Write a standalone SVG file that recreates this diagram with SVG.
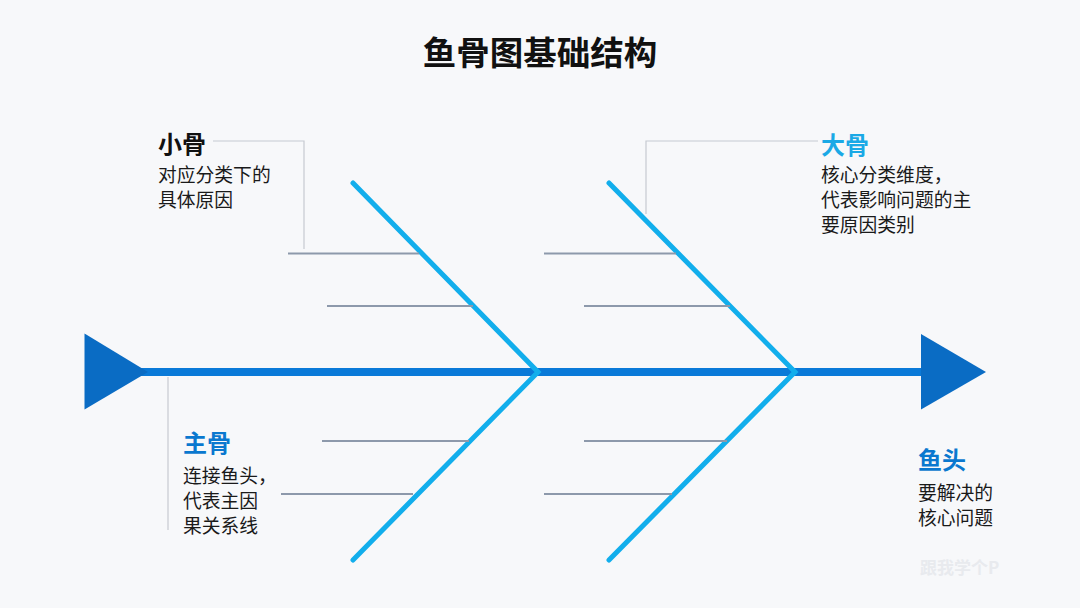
<svg xmlns="http://www.w3.org/2000/svg" width="1080" height="608" viewBox="0 0 1080 608">
<style>
text{font-family:"Noto Sans CJK SC","Noto Sans",sans-serif}
.title{font-size:33.5px;font-weight:700;fill:#111}
.head{font-size:24px;font-weight:700}
.body{font-size:18.8px;fill:#1a1a1a}
.bone{stroke:#12aeec;stroke-width:5;stroke-linecap:round;fill:none}
.rib{stroke:#8d99ab;stroke-width:2;fill:none}
.call{stroke:#c6cad1;stroke-width:1.2;fill:none}
</style>
<rect width="1080" height="608" fill="#f7f8fa"/>
<text class="title" x="540" y="65" text-anchor="middle">鱼骨图基础结构</text>
<g id="connectors">
<polyline class="call" points="213,141 304,141 304,249"/>
<polyline class="call" points="818,141 646,141 646,214"/>
<line class="call" x1="168" y1="377" x2="168" y2="530"/>
<line x1="140" y1="372" x2="926" y2="372" stroke="#0a7ad8" stroke-width="8"/>
<polyline class="bone" points="353,183 538,372 353,560"/>
<polyline class="bone" points="609,183 795,372 609,560"/>
<line class="rib" x1="288" y1="253.5" x2="419" y2="253.5"/>
<line class="rib" x1="327" y1="306" x2="473" y2="306"/>
<line class="rib" x1="322" y1="441" x2="469" y2="441"/>
<line class="rib" x1="281" y1="494" x2="413" y2="494"/>
<line class="rib" x1="544" y1="253.5" x2="676" y2="253.5"/>
<line class="rib" x1="584" y1="306" x2="730" y2="306"/>
<line class="rib" x1="584" y1="441" x2="727" y2="441"/>
<line class="rib" x1="544" y1="494" x2="672" y2="494"/>
</g>
<g id="tail"><polygon points="84.5,333.5 84.5,409.5 148,372" fill="#0a6cc4"/></g>
<g id="head"><polygon points="921,334 921,409.5 986,372" fill="#0a6cc4"/></g>
<g id="node-xiaogu">
<text class="head" x="158" y="153" fill="#111">小骨</text>
<text class="body" x="158" y="182">对应分类下的</text>
<text class="body" x="158" y="207">具体原因</text>
</g>
<g id="node-dagu">
<text class="head" x="821" y="154" fill="#1aa9e6">大骨</text>
<text class="body" x="821" y="182">核心分类维度，</text>
<text class="body" x="821" y="207">代表影响问题的主</text>
<text class="body" x="821" y="232">要原因类别</text>
</g>
<g id="node-zhugu">
<text class="head" x="183" y="452" fill="#0a78cf">主骨</text>
<text class="body" x="183" y="483">连接鱼头，</text>
<text class="body" x="183" y="508">代表主因</text>
<text class="body" x="183" y="533">果关系线</text>
</g>
<g id="node-yutou">
<text class="head" x="918" y="469" fill="#0a78cf">鱼头</text>
<text class="body" x="918" y="500">要解决的</text>
<text class="body" x="918" y="525">核心问题</text>
</g>
<text x="920" y="574" font-size="17" font-weight="700" fill="#e8eaee">跟我学个P</text>
</svg>
